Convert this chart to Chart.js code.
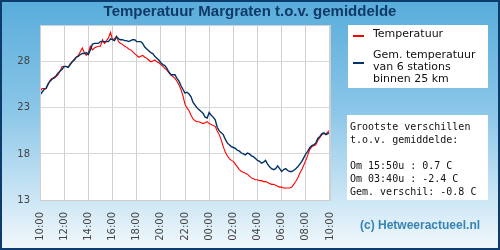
<!DOCTYPE html>
<html>
<head>
<meta charset="utf-8">
<script src="https://cdn.jsdelivr.net/npm/chart.js@4"></script>
<style>
body { margin: 0; }
#kader { position: relative; width: 500px; height: 250px; overflow: hidden;
  background: linear-gradient(to bottom, #58acdb 0%, #8cc7e8 45%, #f2f8fc 100%); }
#grafiek { position: absolute; left: 0; top: 0; }
#rand { position: absolute; left: 0; top: 0; width: 500px; height: 250px; box-sizing: border-box; border: 2px solid #0c3c6c; }
#titel { position: absolute; left: 0; top: 3px; width: 500px; text-align: center;
  font: bold 15px/15px "Liberation Sans", Arial, sans-serif; color: #0f3a66; }
.doos { position: absolute; background: #fff; }
#legenda { left: 348px; top: 25px; width: 140px; height: 63px; }
.streep { position: absolute; left: 5px; width: 11px; height: 2px; }
.legtekst { position: absolute; left: 25px; font: 11px/12px "DejaVu Sans", sans-serif; color: #111; white-space: nowrap; }
#verschil { left: 347px; top: 115px; width: 141px; height: 85px; }
#verschil pre { margin: 0; position: absolute; left: 3px; top: 5px; font: 10px/13px "DejaVu Sans Mono", monospace; color: #111; }
#copy { position: absolute; left: 360px; top: 218px; font: bold 12px/14px "Liberation Sans", Arial, sans-serif; color: #3784b3; }
</style>
</head>
<body>
<div id="kader">
  <canvas id="grafiek" width="500" height="250"></canvas>
  <div id="titel">Temperatuur Margraten t.o.v. gemiddelde</div>
  <div id="legenda" class="doos">
    <div class="streep" style="top:10px;background:#ff0000"></div>
    <div class="legtekst" style="top:3px">Temperatuur</div>
    <div class="streep" style="top:37px;background:#003366"></div>
    <div class="legtekst" style="top:24px">Gem. temperatuur<br>van 6 stations<br>binnen 25 km</div>
  </div>
  <div id="verschil" class="doos"><pre>Grootste verschillen
t.o.v. gemiddelde:

Om 15:50u : 0.7 C
Om 03:40u : -2.4 C
Gem. verschil: -0.8 C</pre></div>
  <div id="copy">(c) Hetweeractueel.nl</div>
  <div id="rand"></div>
</div>
<script>
// tijd-as: elke 10 minuten een meting, van 10:00 tot 10:00
const stapMinuten = 10;
const tijdLabels = ["10:00","12:00","14:00","16:00","18:00","20:00","22:00","00:00","02:00","04:00","06:00","08:00","10:00"];
const yTicks = [13, 18, 23, 28];

// temperatuur Margraten
const temperatuur = [
24.8,25.1,25.1,25.1,25.5,26.0,26.2,26.2,26.4,26.6,27.0,27.5,
27.5,27.5,27.4,27.8,28.0,28.3,28.5,28.7,29.1,29.5,29.0,28.7,
29.0,29.7,29.3,29.5,29.6,29.7,29.7,30.4,30.0,30.3,30.6,31.2,
30.4,30.5,30.8,30.2,30.0,29.9,29.7,29.6,29.4,29.3,29.1,28.9,
28.7,28.5,28.6,28.7,28.5,28.4,28.2,28.0,28.1,28.2,28.0,27.9,
27.7,27.5,27.3,27.1,26.8,26.6,26.4,26.2,25.9,25.5,25.0,24.3,
23.4,23.0,22.7,22.2,21.8,21.6,21.5,21.5,21.4,21.3,21.4,21.5,
21.3,21.2,21.1,21.0,20.5,20.1,19.5,18.8,18.2,17.8,17.5,17.3,
17.2,16.9,16.6,16.3,16.1,16.0,15.9,15.8,15.6,15.4,15.3,15.2,
15.2,15.1,15.1,15.0,15.0,14.9,14.8,14.7,14.7,14.6,14.5,14.4,
14.4,14.3,14.3,14.3,14.3,14.4,14.7,15.0,15.4,15.9,16.3,16.8,
17.3,17.9,18.5,18.8,18.9,19.0,19.5,19.8,20.1,20.2,20.2,20.4,
20.6
];

// gemiddelde van 6 stations binnen 25 km
const gemiddelde = [
24.4,24.7,25.0,25.1,25.6,25.9,26.1,26.3,26.5,26.8,27.0,27.2,
27.5,27.5,27.4,27.7,28.0,28.2,28.5,28.6,28.8,28.9,28.9,29.0,
28.8,29.3,29.9,30.0,30.0,30.0,30.2,30.2,30.2,30.2,30.2,30.5,
30.4,30.3,30.7,30.5,30.4,30.4,30.3,30.3,30.2,30.3,30.4,30.4,
30.2,30.2,30.2,30.0,29.6,29.4,29.2,29.0,28.9,28.6,28.4,28.2,
27.9,27.7,27.6,27.3,26.9,26.6,26.6,26.6,26.2,25.9,25.4,25.0,
24.6,24.7,24.5,24.2,23.6,23.3,23.0,22.8,22.6,22.4,22.0,21.9,
22.5,22.2,22.0,21.7,20.9,20.5,20.3,20.1,19.6,19.2,19.0,18.8,
18.7,18.6,18.4,18.3,18.1,18.0,17.9,18.1,18.0,17.8,17.7,17.5,
17.3,17.2,17.0,17.1,17.3,16.9,16.6,16.4,16.3,16.4,16.7,16.4,
16.1,16.3,16.4,16.2,16.1,16.1,16.2,16.4,16.6,16.9,17.2,17.6,
18.0,18.3,18.7,18.9,19.0,19.2,19.7,19.9,20.2,20.3,20.1,20.2,
20.4
];

const naarPunten = reeks => reeks.map((v, i) => ({ x: i * stapMinuten, y: v }));

// witte achtergrond + kader om het plotgebied
const plotVlak = {
  id: "plotVlak",
  beforeDraw(chart) {
    const a = chart.chartArea;
    const ctx = chart.ctx;
    ctx.save();
    ctx.fillStyle = "#ffffff";
    ctx.fillRect(a.left, a.top, a.right - a.left, a.bottom - a.top);
    ctx.restore();
  },
  afterDatasetsDraw(chart) {
    const a = chart.chartArea;
    const ctx = chart.ctx;
    ctx.save();
    ctx.strokeStyle = "#cfcfcf";
    ctx.lineWidth = 1;
    ctx.strokeRect(a.left + 0.5, a.top + 0.5, a.right - a.left - 1, a.bottom - a.top);
    ctx.restore();
  }
};

new Chart(document.getElementById("grafiek"), {
  type: "line",
  data: {
    datasets: [
      {
        label: "Gem. temperatuur",
        data: naarPunten(gemiddelde),
        borderColor: "#003366",
        borderWidth: 1.4,
        pointRadius: 0,
        tension: 0
      },
      {
        label: "Temperatuur",
        data: naarPunten(temperatuur),
        borderColor: "#ff0000",
        borderWidth: 1.1,
        pointRadius: 0,
        tension: 0
      }
    ]
  },
  options: {
    responsive: false,
    devicePixelRatio: 1,
    animation: false,
    layout: { padding: { left: 0, top: 25, right: 170, bottom: 0 } },
    plugins: {
      legend: { display: false },
      tooltip: { enabled: false },
      title: { display: false }
    },
    scales: {
      x: {
        type: "linear",
        min: 0,
        max: (tijdLabels.length - 1) * 120,
        afterFit: s => { s.height = 50; },
        grid: { color: "#cfcfcf", drawTicks: false },
        border: { color: "#cfcfcf" },
        ticks: {
          stepSize: 120,
          autoSkip: false,
          minRotation: 90,
          maxRotation: 90,
          padding: 12,
          color: "#444",
          font: { family: "DejaVu Sans", size: 10 },
          callback: v => tijdLabels[Math.round(v / 120)]
        }
      },
      y: {
        min: 13,
        max: 32,
        afterFit: s => { s.width = 40; },
        afterBuildTicks: s => { s.ticks = yTicks.map(v => ({ value: v })); },
        grid: { color: "#d8d8d8", drawTicks: false },
        border: { color: "#cfcfcf" },
        ticks: {
          padding: 10,
          color: "#444",
          font: { family: "DejaVu Sans", size: 10 }
        }
      }
    }
  },
  plugins: [plotVlak]
});
</script>
</body>
</html>
